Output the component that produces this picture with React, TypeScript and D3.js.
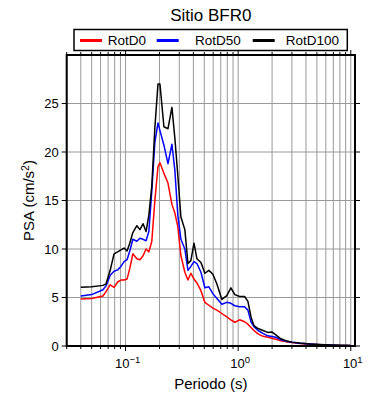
import React from "react";
import * as d3 from "d3";

const periods = [0.04,0.05,0.063,0.067,0.073,0.079,0.085,0.091,0.097,0.103,0.109,0.116,0.126,0.134,0.143,0.152,0.161,0.171,0.182,0.194,0.202,0.219,0.238,0.258,0.274,0.291,0.31,0.336,0.358,0.38,0.405,0.43,0.467,0.506,0.549,0.596,0.647,0.716,0.793,0.861,0.934,1.03,1.14,1.22,1.3,1.38,1.5,1.66,1.83,1.99,2.16,2.39,2.65,3.0,3.53,4.34,5.33,6.55,8.05,9.9];

const rotD100 = [6.05,6.1,6.25,6.4,7.8,9.5,9.7,9.9,10.1,9.8,10.6,11.7,12.4,12.0,12.6,11.8,13.5,16.5,22.5,27.0,27.0,22.6,22.4,24.6,21.4,17.6,13.3,12.0,8.5,8.8,10.6,9.0,8.6,7.5,7.8,7.4,6.4,4.8,5.2,6.0,5.3,5.1,5.1,4.6,3.0,2.1,1.8,1.6,1.4,1.45,1.15,0.75,0.55,0.4,0.3,0.2,0.15,0.1,0.07,0.05];
const rotD50 = [5.15,5.3,5.8,6.2,7.3,7.7,7.85,8.2,8.7,8.9,9.8,11.0,10.8,11.1,11.0,10.85,11.8,16.0,21.0,23.0,22.2,20.7,18.8,20.8,18.1,13.5,11.0,10.0,7.8,8.2,8.7,8.5,7.6,6.0,6.1,5.4,4.9,4.3,4.5,4.4,4.15,4.05,4.05,3.7,2.5,2.0,1.6,1.3,1.05,0.97,0.9,0.65,0.5,0.38,0.28,0.2,0.14,0.1,0.06,0.04];
const rotD0 = [4.85,4.9,5.15,5.6,6.3,6.05,6.6,6.8,6.8,6.9,8.0,9.5,9.0,8.9,9.3,10.0,9.7,10.8,15.0,18.5,18.9,17.8,16.8,14.6,13.7,12.3,9.3,7.6,6.8,7.5,6.9,6.5,5.7,4.5,4.2,3.9,3.7,3.35,3.0,2.7,2.45,2.7,2.5,2.25,1.9,1.6,1.25,1.0,0.9,0.8,0.7,0.55,0.45,0.35,0.25,0.18,0.12,0.08,0.06,0.04];

const seriesNames = ["RotD0", "RotD50", "RotD100"];
const seriesColors = ["#ff0000", "#0000ff", "#000000"];
const seriesValues = [rotD0, rotD50, rotD100];

const yTicks = [0, 5, 10, 15, 20, 25];
const xMajor = [0.1, 1, 10];
const xMajorExp = ["−1", "0", "1"];

export default function App() {
  const W = 390, H = 400;
  const L = 66.7, R = 355, T = 55, B = 346;
  const x = d3.scaleLog().domain([0.03, 10.9]).range([L, R]);
  const y = d3.scaleLinear().domain([0, 30]).range([B, T]);
  const minor: number[] = [];
  [0.01, 0.1, 1, 10].forEach((d) => {
    for (let k = 1; k <= 9; k++) {
      const v = d * k;
      if (v >= 0.03 && v <= 10.9) minor.push(v);
    }
  });
  const line = d3
    .line<number>()
    .x((_, i) => x(periods[i]))
    .y((v) => y(v));
  const font = "'Liberation Sans', Arial, sans-serif";
  const legendItems = [
    { lx: 80, tx: 107.7 },
    { lx: 156.7, tx: 195 },
    { lx: 252.7, tx: 285.7 },
  ];
  return (
    <svg width={W} height={H} style={{ position: "absolute", left: 0, top: 0 }} fontFamily={font}>
      <rect x={0} y={0} width={W} height={H} fill="#fff" />
      {/* grid */}
      {minor.map((v, i) => (
        <line key={"gv" + i} x1={x(v)} x2={x(v)} y1={T} y2={B} stroke="#9a9a9a" strokeWidth={1} />
      ))}
      {yTicks.slice(1).map((v) => (
        <line key={"gh" + v} x1={L} x2={R} y1={y(v)} y2={y(v)} stroke="#9a9a9a" strokeWidth={1} />
      ))}
      {/* series */}
      {seriesValues.map((vals, i) => (
        <path key={"s" + i} d={line(vals) || ""} fill="none" stroke={seriesColors[i]} strokeWidth={1.5} strokeLinejoin="round" />
      ))}
      {/* ticks bottom/top */}
      {minor.map((v, i) => {
        const major = xMajor.some((m) => Math.abs(m - v) < 1e-9);
        const len = major ? 5 : 3;
        return (
          <g key={"tk" + i}>
            <line x1={x(v)} x2={x(v)} y1={B} y2={B + len} stroke="#000" strokeWidth={1} />
            <line x1={x(v)} x2={x(v)} y1={T} y2={T - len} stroke="#000" strokeWidth={1} />
          </g>
        );
      })}
      {yTicks.map((v) => (
        <g key={"yt" + v}>
          <line x1={L - 5} x2={L} y1={y(v)} y2={y(v)} stroke="#000" strokeWidth={1} />
          <line x1={R} x2={R + 5} y1={y(v)} y2={y(v)} stroke="#000" strokeWidth={1} />
          <text x={L - 8} y={y(v) + 4.5} textAnchor="end" fontSize={13}>
            {v}
          </text>
        </g>
      ))}
      {xMajor.map((v, i) => (
        <text key={"xl" + v} x={x(v) + 2} y={368} textAnchor="middle" fontSize={13}>
          10
          <tspan dy={-5} fontSize={9.5}>
            {xMajorExp[i]}
          </tspan>
        </text>
      ))}
      {/* frame */}
      <rect x={L} y={T} width={R - L} height={B - T} fill="none" stroke="#000" strokeWidth={2} />
      {/* labels */}
      <text x={(L + R) / 2} y={389} textAnchor="middle" fontSize={15}>
        Periodo (s)
      </text>
      <text transform={`translate(34,${(T + B) / 2}) rotate(-90)`} textAnchor="middle" fontSize={15}>
        PSA (cm/s
        <tspan dy={-5} fontSize={10.5}>2</tspan>
        <tspan dy={5}>)</tspan>
      </text>
      <text x={(L + R) / 2} y={21} textAnchor="middle" fontSize={17}>
        Sitio BFR0
      </text>
      {/* legend */}
      <rect x={74} y={29.5} width={273.3} height={21} fill="#fff" stroke="#000" strokeWidth={1.5} />
      {legendItems.map((it, i) => (
        <g key={"lg" + i}>
          <line x1={it.lx} x2={it.lx + 22} y1={40.5} y2={40.5} stroke={seriesColors[i]} strokeWidth={3} />
          <text x={it.tx} y={45} fontSize={13.5}>
            {seriesNames[i]}
          </text>
        </g>
      ))}
    </svg>
  );
}
